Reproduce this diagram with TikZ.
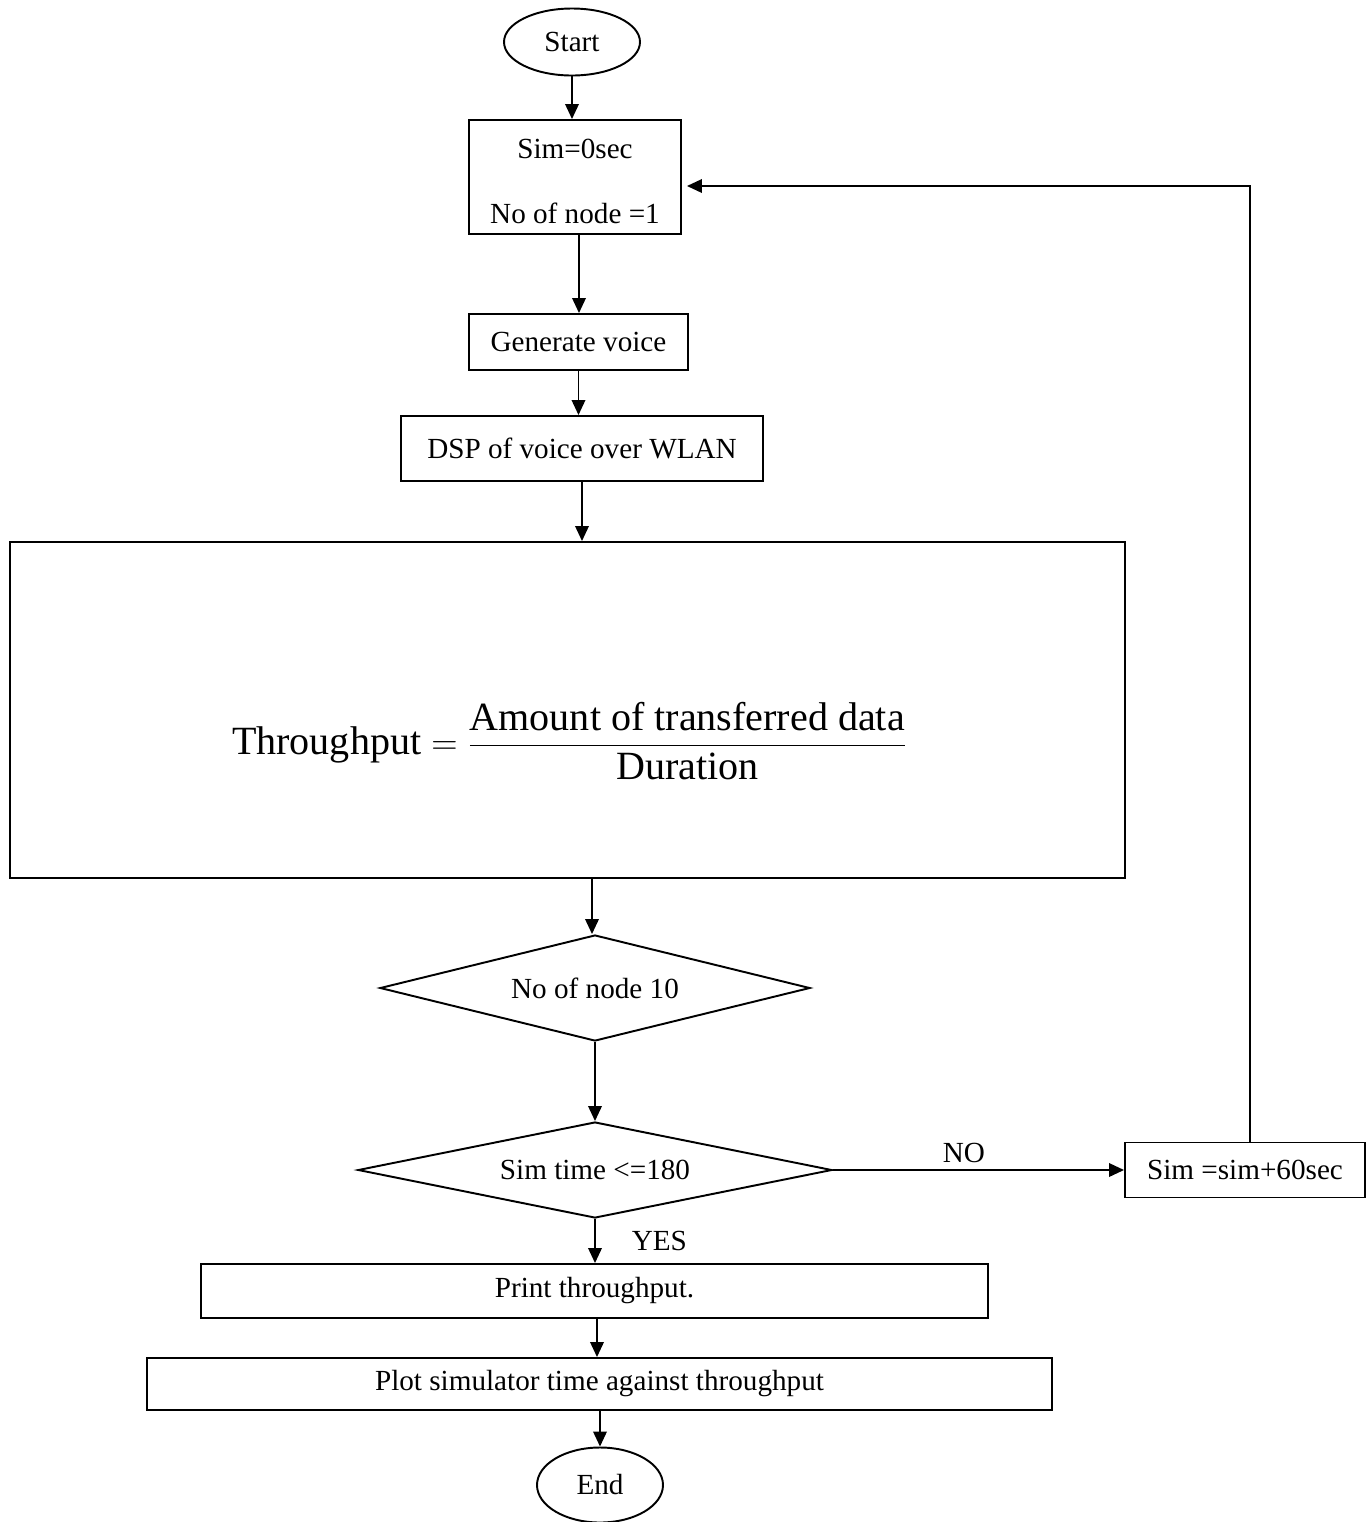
\documentclass[tikz,border=0pt]{standalone}
\usepackage{fontspec}
\setmainfont{Liberation Serif}
\usetikzlibrary{shapes.geometric,arrows.meta}

\begin{document}
\begin{tikzpicture}[scale=1,
    font=\fontsize{16.6}{20}\selectfont,
    box/.style={draw, line width=1.1pt, inner sep=0pt, align=center},
    term/.style={draw, ellipse, line width=1.1pt, inner sep=0pt},
    decision/.style={draw, diamond, line width=1.1pt, inner sep=0pt},
    arrow/.style={line width=1.1pt, -{Triangle[length=0.3cm,width=0.27cm]}}]

    % Keep the page at the proportions of the original figure
    \useasboundingbox (0,0) rectangle (27.44,-30.44);

    % Start and the initial settings
    \node[term, minimum width=2.72cm, minimum height=1.34cm] (start) at (11.44,-0.84) {Start};
    \node[box, minimum width=4.24cm, minimum height=2.28cm] (sim) at (11.5,-3.54) {\rule{0pt}{0.55cm}Sim=0sec\\[0.6cm]No of node =1};

    % Voice generation and processing
    \node[box, minimum width=4.38cm, minimum height=1.12cm] (gen) at (11.57,-6.84) {Generate voice};
    \node[box, minimum width=7.24cm, minimum height=1.3cm] (dsp) at (11.64,-8.97) {DSP of voice over WLAN};

    % Big box holding the throughput formula
    \node[box, minimum width=22.3cm, minimum height=6.72cm] (calc) at (11.35,-14.2) {};
    \node[font=\fontsize{22.8}{27}\selectfont] (tput) at (11.39,-14.82)
        {$\displaystyle\mathrm{Throughput}=\frac{\mathrm{Amount\ of\ transferred\ data}}{\mathrm{Duration}}$};

    % The two decisions
    \node[decision, aspect=4, minimum width=8.6cm, minimum height=2.12cm] (nodes) at (11.9,-19.76) {No of node 10};
    \node[decision, aspect=5, minimum width=9.48cm, minimum height=1.92cm] (time) at (11.9,-23.4) {Sim time <=180};

    % Time step box on the right
    \node[box, minimum width=4.8cm, minimum height=1.1cm] (step) at (24.9,-23.4) {Sim =sim+60sec};

    % Output and end
    \node[box, minimum width=15.74cm, minimum height=1.08cm] (print) at (11.89,-25.82) {Print throughput.};
    \node[box, minimum width=18.1cm, minimum height=1.04cm] (plot) at (11.99,-27.68) {Plot simulator time against throughput};
    \node[term, minimum width=2.52cm, minimum height=1.5cm] (end) at (12.0,-29.7) {End};

    % Main flow arrows
    \draw[arrow] (start.south) -- (start.south |- sim.north);
    \draw[arrow] ([xshift=0.08cm]sim.south) -- ([xshift=0.08cm]sim.south |- gen.north);
    \draw[arrow] (gen.south) -- (gen.south |- dsp.north);
    \draw[arrow] (dsp.south) -- (dsp.south |- calc.north);
    \draw[arrow] ([xshift=-0.06cm]nodes.north |- calc.south) -- ([xshift=-0.06cm]nodes.north);
    \draw[arrow] (nodes.south) -- (time.north);
    \draw[arrow] (time.south) -- node[right=0.6cm] {YES} (time.south |- print.north);
    \draw[arrow] ([xshift=0.05cm]print.south) -- ([xshift=0.05cm]print.south |- plot.north);
    \draw[arrow] (end.north |- plot.south) -- (end.north);

    % The NO branch and the loop back
    \draw[arrow] (time.east) -- node[pos=0.45, above] {NO} (step.west);
    \draw[arrow] ([xshift=0.1cm]step.north) |- ([xshift=0.1cm,yshift=-0.18cm]sim.east);

\end{tikzpicture}
\end{document}
